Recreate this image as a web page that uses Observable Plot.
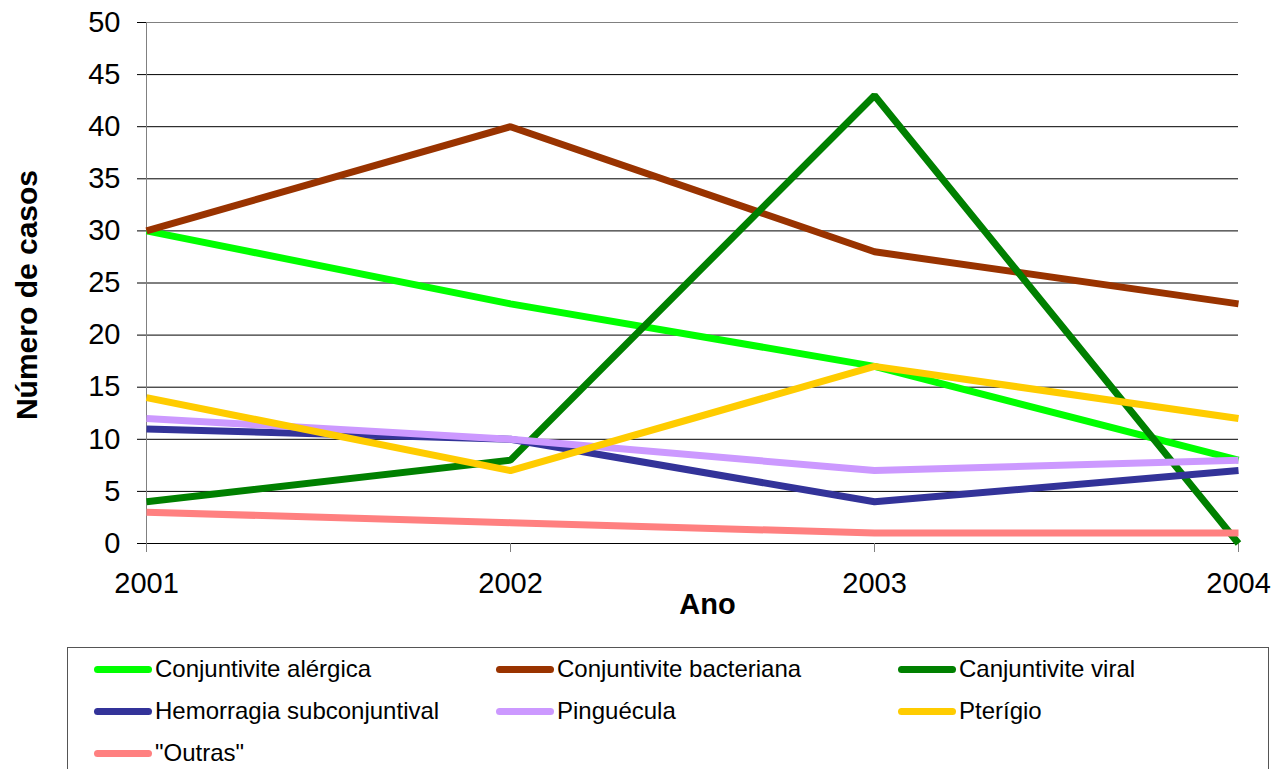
<!DOCTYPE html>
<html>
<head>
<meta charset="utf-8">
<script src="https://cdn.jsdelivr.net/npm/d3@7"></script>
<script src="https://cdn.jsdelivr.net/npm/@observablehq/plot@0.6"></script>
<style>
  html, body { margin: 0; padding: 0; background: #fff; }
  body { font-family: "Liberation Sans", Arial, sans-serif; width: 1284px; height: 769px; overflow: hidden; position: relative; }
  #legend {
    position: absolute; left: 67px; top: 647px; width: 1202px; height: 140px;
    border: 1px solid #555; box-sizing: border-box; background: #fff;
  }
  .item { position: absolute; display: flex; align-items: center; font-size: 24px; color: #000; white-space: nowrap; }
  .swatch { width: 58px; height: 7px; border-radius: 4px; margin-right: 3px; }
</style>
</head>
<body>
<div id="chart"></div>
<div id="legend"></div>
<script>
// Years on the horizontal axis
const years = [2001, 2002, 2003, 2004];

// Series names and their line colours
const seriesNames = [
  "Conjuntivite alérgica",
  "Conjuntivite bacteriana",
  "Canjuntivite viral",
  "Hemorragia subconjuntival",
  "Pinguécula",
  "Pterígio",
  "\"Outras\""
];
const seriesColors = ["#00ff00", "#993300", "#008000", "#333399", "#cc99ff", "#ffcc00", "#ff8080"];

// Number of cases per year, one array per series
const conjuntiviteAlergica = [30, 23, 17, 8];
const conjuntiviteBacteriana = [30, 40, 28, 23];
const canjuntiviteViral = [4, 8, 43, 0];
const hemorragiaSubconjuntival = [11, 10, 4, 7];
const pinguecula = [12, 10, 7, 8];
const pterigio = [14, 7, 17, 12];
const outras = [3, 2, 1, 1];

// Y tick values
const yTicks = [0, 5, 10, 15, 20, 25, 30, 35, 40, 45, 50];

const seriesValues = [
  conjuntiviteAlergica, conjuntiviteBacteriana, canjuntiviteViral,
  hemorragiaSubconjuntival, pinguecula, pterigio, outras
];

const rows = seriesNames.flatMap((name, i) =>
  years.map((year, j) => ({series: name, year, value: seriesValues[i][j]}))
);

const chart = Plot.plot({
  width: 1284,
  height: 640,
  marginLeft: 146,
  marginRight: 46,
  marginTop: 22,
  marginBottom: 97,
  style: {fontFamily: "'Liberation Sans', Arial, sans-serif", fontSize: "29px", color: "#000", background: "#fff"},
  x: {domain: [2001, 2004], type: "linear", label: null},
  y: {domain: [0, 50], label: null},
  color: {domain: seriesNames, range: seriesColors},
  marks: [
    Plot.gridY(yTicks.filter(d => d < 50), {stroke: "#000", strokeOpacity: 1}),
    Plot.ruleY([50], {stroke: "#808080"}),
    Plot.ruleX([2001], {stroke: "#808080"}),
    Plot.axisY(yTicks, {label: null, tickSize: 9, tickPadding: 17, fontSize: 29, stroke: "#000", tickFormat: d => `${d}`}),
    Plot.axisX(years, {label: null, tickSize: 9, tickPadding: 20, fontSize: 29, stroke: "#808080", tickFormat: d => `${d}`}),
    Plot.line(rows, {x: "year", y: "value", z: "series", stroke: "series", strokeWidth: 7, strokeLinejoin: "miter", strokeLinecap: "butt"}),
    Plot.text(["Ano"], {frameAnchor: "bottom", dy: 70, dx: 15, fontSize: 29, fontWeight: "bold"}),
    Plot.text(["Número de casos"], {frameAnchor: "left", textAnchor: "middle", rotate: -90, dx: -119, dy: 12, fontSize: 30, fontWeight: "bold"})
  ]
});
document.getElementById("chart").appendChild(chart);

// Legend: three columns of swatch + label
const legend = document.getElementById("legend");
seriesNames.forEach((name, i) => {
  const col = i % 3, row = Math.floor(i / 3);
  const item = document.createElement("div");
  item.className = "item";
  item.style.left = (26 + col * 402) + "px";
  item.style.top = (6 + row * 42) + "px";
  item.style.height = "30px";
  const sw = document.createElement("div");
  sw.className = "swatch";
  sw.style.background = seriesColors[i];
  const label = document.createElement("span");
  label.textContent = name;
  item.appendChild(sw);
  item.appendChild(label);
  legend.appendChild(item);
});
</script>
</body>
</html>
